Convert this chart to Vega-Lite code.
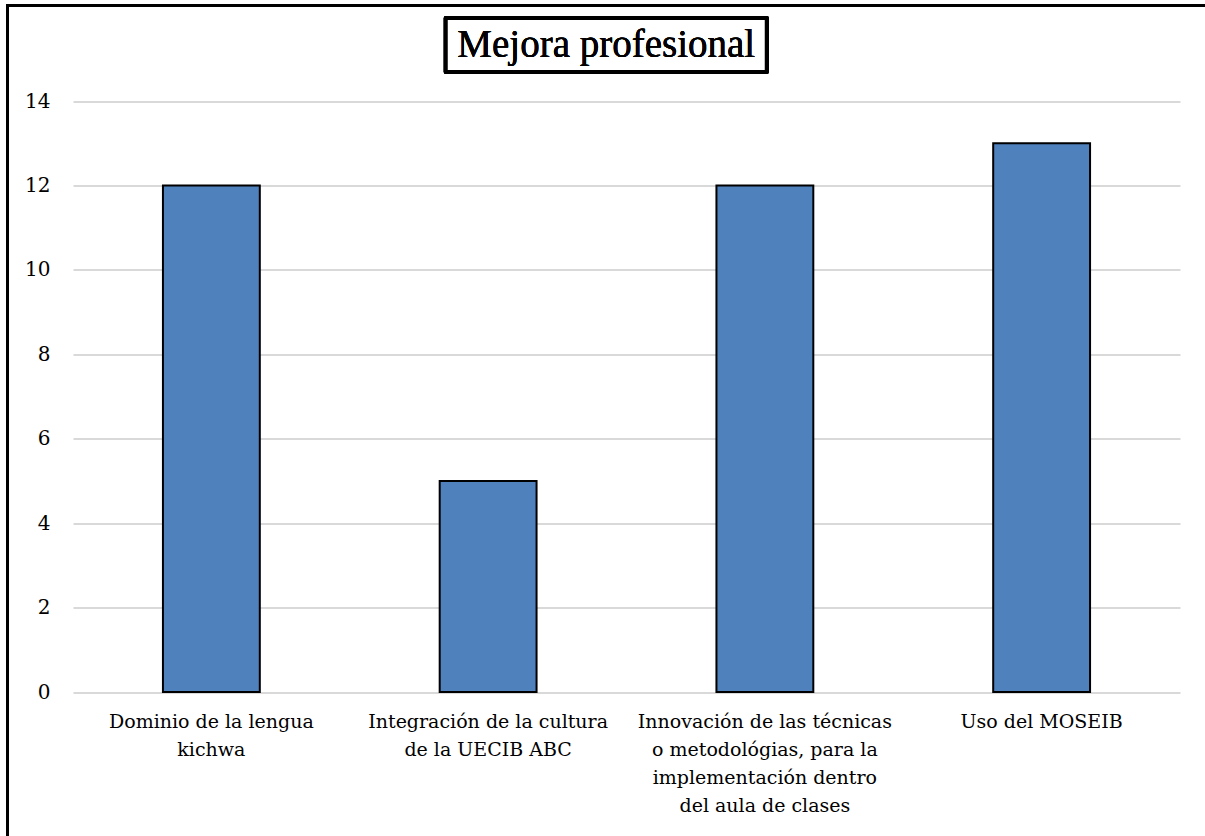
{
  "$schema": "https://vega.github.io/schema/vega-lite/v6.json",
  "width": 1197.5,
  "height": 830.5,
  "autosize": {"type": "none"},
  "padding": {"left": 7.5, "top": 5.5, "right": 0, "bottom": 0},
  "background": "white",
  "view": {
    "stroke": "#000000",
    "strokeWidth": 3,
    "strokeDash": [1197.5, 2028, 840, 0],
    "fill": "white"
  },
  "config": {
    "font": "DejaVu Serif"
  },
  "data": {
    "values": [
      {"categoria": "Dominio de la lengua\nkichwa", "docentes": 12},
      {"categoria": "Integración de la cultura\nde la UECIB ABC", "docentes": 5},
      {"categoria": "Innovación de las técnicas\no metodológias, para la\nimplementación dentro\ndel aula de clases", "docentes": 12},
      {"categoria": "Uso del MOSEIB", "docentes": 13}
    ]
  },
  "layer": [
    {
      "mark": {"type": "bar", "fill": "#4F81BD", "stroke": "#000000", "strokeWidth": 2},
      "encoding": {
        "x": {
          "field": "categoria",
          "type": "nominal",
          "sort": null,
          "scale": {"range": [65.5, 1172.5], "paddingInner": 0.65, "paddingOuter": 0.325},
          "axis": {
            "title": null,
            "orient": "bottom",
            "offset": -144,
            "domain": false,
            "ticks": false,
            "grid": false,
            "labelAngle": 0,
            "labelExpr": "split(datum.value, '\\n')",
            "labelFont": "DejaVu Serif",
            "labelFontSize": 19,
            "labelLineHeight": 28,
            "labelColor": "#000000",
            "labelPadding": 20,
            "labelLimit": 0,
            "labelBaseline": "top"
          }
        },
        "y": {
          "field": "docentes",
          "type": "quantitative",
          "scale": {"domain": [0, 14], "range": [686.5, 95.5], "nice": false},
          "axis": {
            "title": null,
            "orient": "left",
            "offset": -65.5,
            "values": [0, 2, 4, 6, 8, 10, 12, 14],
            "format": "d",
            "domain": false,
            "ticks": false,
            "grid": true,
            "gridColor": "#d9d9d9",
            "gridWidth": 2,
            "labelFont": "DejaVu Serif",
            "labelFontSize": 20,
            "labelColor": "#000000",
            "labelPadding": 23
          }
        }
      }
    },
    {
      "mark": {
        "type": "point",
        "shape": "M-1,-0.168H1V0.168H-1Z",
        "size": 103041,
        "fill": "white",
        "stroke": "#000000",
        "strokeWidth": 4,
        "strokeJoin": "round",
        "opacity": 1,
        "fillOpacity": 1,
        "strokeOpacity": 1
      },
      "encoding": {"y": {"datum": 15.327, "type": "quantitative"}}
    },
    {
      "mark": {
        "type": "text",
        "text": "Mejora profesional",
        "font": "Liberation Serif",
        "fontSize": 39,
        "color": "#000000",
        "baseline": "middle",
        "align": "center"
      },
      "encoding": {"y": {"datum": 15.327, "type": "quantitative"}}
    }
  ]
}
